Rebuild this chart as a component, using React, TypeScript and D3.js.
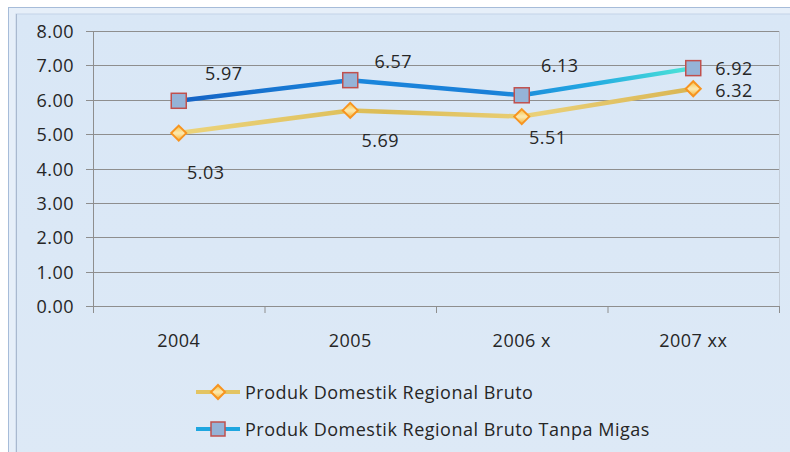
import React from "react";
import * as d3 from "d3";

const categories = ["2004", "2005", "2006 x", "2007 xx"];
const pdrb = [5.03, 5.69, 5.51, 6.32];
const pdrbNonMigas = [5.97, 6.57, 6.13, 6.92];
const yTicks = [0, 1, 2, 3, 4, 5, 6, 7, 8];
const seriesNames = [
  "Produk Domestik Regional Bruto",
  "Produk Domestik Regional Bruto Tanpa Migas",
];
// label offsets (style) relative to each point
const pdrbLabelOffsets: [number, number][] = [[27, 39], [30, 30], [26, 20], [40, 1]];
const nonMigasLabelOffsets: [number, number][] = [[45, -28], [43, -19], [38, -30], [40, 0]];

const W = 790;
const H = 452;
const FONT = "'Open Sans', 'Noto Sans', sans-serif";
const FS = 18;
const LS = 0.5;

export default function App() {
  const plot = { left: 93, right: 779, top: 31, bottom: 306 };
  const x = d3.scaleBand<string>().domain(categories).range([plot.left, plot.right]).padding(0);
  const y = d3.scaleLinear().domain([0, 8]).range([plot.bottom, plot.top]);
  const cx = (c: string) => (x(c) as number) + x.bandwidth() / 2;
  const line = d3
    .line<number>()
    .x((_, i) => cx(categories[i]))
    .y((d) => y(d));

  const boundaries = categories.map((c) => x(c) as number).concat([plot.right]);

  const diamond = (px: number, py: number, r: number) =>
    `M${px},${py - r}L${px + r},${py}L${px},${py + r}L${px - r},${py}Z`;

  const legendY = [392, 429];

  return (
    <svg
      width={W}
      height={H}
      style={{ position: "absolute", left: 0, top: 0 }}
      fontFamily={FONT}
    >
      <defs>
        <linearGradient id="bgGrad" x1="0" y1="0" x2="0" y2="1">
          <stop offset="0" stopColor="#d9e7f6" />
          <stop offset="1" stopColor="#dde9f6" />
        </linearGradient>
        <linearGradient
          id="blueGrad"
          gradientUnits="userSpaceOnUse"
          x1={cx(categories[0])}
          y1="0"
          x2={cx(categories[3])}
          y2="0"
        >
          <stop offset="0" stopColor="#1462c4" />
          <stop offset="0.35" stopColor="#1a86dc" />
          <stop offset="0.6" stopColor="#1a7fd8" />
          <stop offset="0.8" stopColor="#22a9e2" />
          <stop offset="1" stopColor="#4ee6d6" />
        </linearGradient>
        <linearGradient
          id="goldGrad"
          gradientUnits="userSpaceOnUse"
          x1={cx(categories[0])}
          y1="0"
          x2={cx(categories[3])}
          y2="0"
        >
          <stop offset="0" stopColor="#ecd47c" />
          <stop offset="0.4" stopColor="#dcbc55" />
          <stop offset="0.7" stopColor="#ead078" />
          <stop offset="1" stopColor="#d9b552" />
        </linearGradient>
        <linearGradient id="diaFill" x1="0" y1="0" x2="0" y2="1">
          <stop offset="0" stopColor="#f6c040" />
          <stop offset="0.45" stopColor="#fbe6a8" />
          <stop offset="0.55" stopColor="#fbe6a8" />
          <stop offset="1" stopColor="#f6b030" />
        </linearGradient>
      </defs>
      <rect x={0} y={0} width={W} height={H} fill="#ffffff" />
      {/* outer frame */}
      <rect x={8.5} y={7.5} width={W} height={H} fill="#e6eff9" stroke="#a6bcd9" />
      <rect x={16} y={14} width={W} height={H} fill="url(#bgGrad)" stroke="#c3d3e8" />
      <line x1={16.5} x2={16.5} y1={14} y2={H} stroke="#a9b9cf" />

      {/* plot area border right */}
      <line x1={plot.right + 0.5} x2={plot.right + 0.5} y1={plot.top} y2={plot.bottom} stroke="#c4cdd8" />

      {/* gridlines */}
      {yTicks.map((t) => (
        <g key={t}>
          <line
            x1={plot.left - 7}
            x2={plot.right}
            y1={Math.round(y(t)) + 0.5}
            y2={Math.round(y(t)) + 0.5}
            stroke="#8e8e8e"
            strokeWidth={1}
          />
          <text
            x={74}
            y={y(t)}
            textAnchor="end"
            dominantBaseline="central"
            fontSize={FS}
            letterSpacing={LS}
            fill="#262626"
          >
            {t.toFixed(2)}
          </text>
        </g>
      ))}
      {/* y axis */}
      <line x1={plot.left + 0.5} x2={plot.left + 0.5} y1={plot.top} y2={plot.bottom} stroke="#8e8e8e" />
      {/* x ticks */}
      {boundaries.map((b, i) => (
        <line key={i} x1={b + 0.5} x2={b + 0.5} y1={plot.bottom} y2={plot.bottom + 7} stroke="#8e8e8e" />
      ))}
      {categories.map((c) => (
        <text
          key={c}
          x={cx(c)}
          y={340}
          textAnchor="middle"
          dominantBaseline="central"
          fontSize={FS}
          letterSpacing={LS}
          fill="#262626"
        >
          {c}
        </text>
      ))}

      {/* series lines */}
      <path d={line(pdrb) || ""} fill="none" stroke="url(#goldGrad)" strokeWidth={4.5} strokeLinejoin="round" />
      <path d={line(pdrbNonMigas) || ""} fill="none" stroke="url(#blueGrad)" strokeWidth={4.5} strokeLinejoin="round" />

      {/* markers */}
      {pdrb.map((v, i) => (
        <g key={"d" + i}>
          <path d={diamond(cx(categories[i]), y(v), 7.5)} fill="url(#diaFill)" stroke="#f79420" strokeWidth={2} />
        </g>
      ))}
      {pdrbNonMigas.map((v, i) => (
        <rect
          key={"s" + i}
          x={cx(categories[i]) - 7.5}
          y={y(v) - 7.5}
          width={15}
          height={15}
          fill="#95b3d7"
          stroke="#c0504d"
          strokeWidth={1.5}
        />
      ))}

      {/* data labels */}
      {pdrb.map((v, i) => (
        <text
          key={"l1" + i}
          x={cx(categories[i]) + pdrbLabelOffsets[i][0]}
          y={y(v) + pdrbLabelOffsets[i][1]}
          textAnchor={i === 3 ? "start" : "middle"}
          dominantBaseline="central"
          fontSize={FS}
          letterSpacing={LS}
          fill="#262626"
          dx={i === 3 ? -18 : 0}
        >
          {v.toFixed(2)}
        </text>
      ))}
      {pdrbNonMigas.map((v, i) => (
        <text
          key={"l2" + i}
          x={cx(categories[i]) + nonMigasLabelOffsets[i][0]}
          y={y(v) + nonMigasLabelOffsets[i][1]}
          textAnchor={i === 3 ? "start" : "middle"}
          dominantBaseline="central"
          fontSize={FS}
          letterSpacing={LS}
          fill="#262626"
          dx={i === 3 ? -18 : 0}
        >
          {v.toFixed(2)}
        </text>
      ))}

      {/* legend */}
      {seriesNames.map((name, i) => (
        <g key={name}>
          <line
            x1={196}
            x2={240}
            y1={legendY[i]}
            y2={legendY[i]}
            stroke={i === 0 ? "#e3c462" : "#1ea6e0"}
            strokeWidth={4}
          />
          {i === 0 ? (
            <path d={diamond(218, legendY[i], 7)} fill="url(#diaFill)" stroke="#f79420" strokeWidth={2} />
          ) : (
            <rect x={211} y={legendY[i] - 7} width={14} height={14} fill="#95b3d7" stroke="#c0504d" strokeWidth={1.5} />
          )}
          <text
            x={245}
            y={legendY[i]}
            dominantBaseline="central"
            fontSize={FS}
            letterSpacing={LS}
            fill="#262626"
          >
            {name}
          </text>
        </g>
      ))}
    </svg>
  );
}
